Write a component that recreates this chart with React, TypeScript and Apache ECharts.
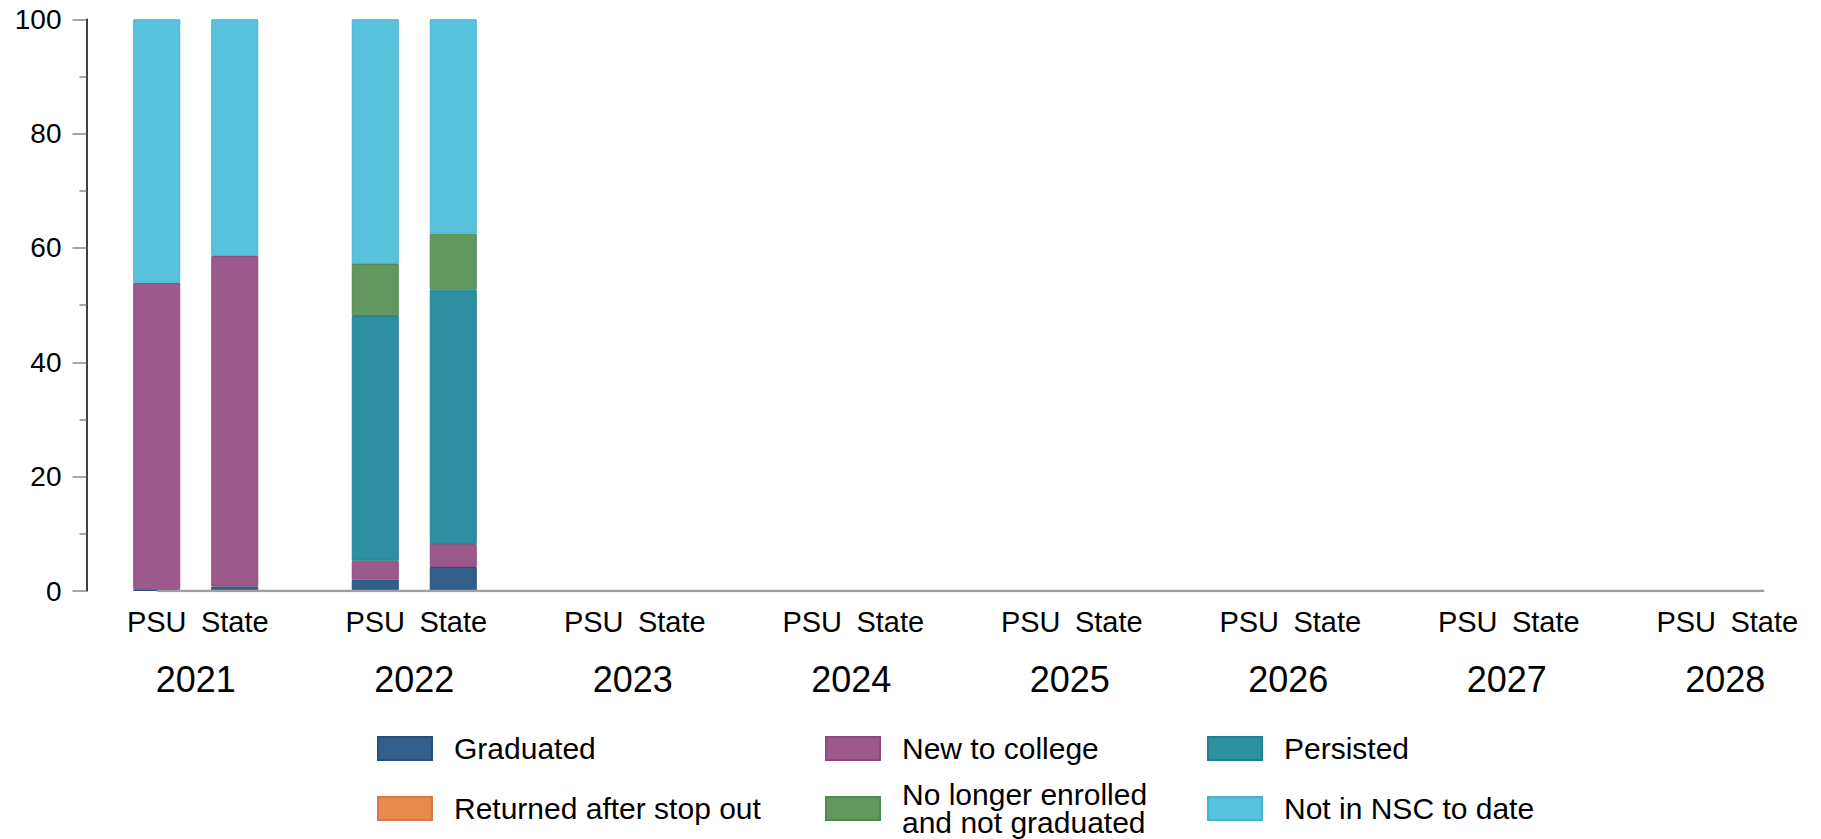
import React, { useEffect, useRef } from "react";
import * as echarts from "echarts";

// ---- data ----
const years = ["2021", "2022", "2023", "2024", "2025", "2026", "2027", "2028"];
const institutions = ["PSU", "State"];

const seriesNames = [
  "Graduated",
  "New to college",
  "Persisted",
  "Returned after stop out",
  "No longer enrolled\nand not graduated",
  "Not in NSC to date",
];

const graduatedPSU = [0.3, 2.0, null, null, null, null, null, null];
const graduatedState = [0.8, 4.2, null, null, null, null, null, null];
const newToCollegePSU = [53.6, 3.3, null, null, null, null, null, null];
const newToCollegeState = [57.8, 4.0, null, null, null, null, null, null];
const persistedPSU = [0, 42.8, null, null, null, null, null, null];
const persistedState = [0, 44.5, null, null, null, null, null, null];
const returnedPSU = [0, 0, null, null, null, null, null, null];
const returnedState = [0, 0, null, null, null, null, null, null];
const noLongerPSU = [0, 9.1, null, null, null, null, null, null];
const noLongerState = [0, 9.8, null, null, null, null, null, null];
const notInNscPSU = [46.1, 42.8, null, null, null, null, null, null];
const notInNscState = [41.4, 37.5, null, null, null, null, null, null];

const yTicks = [0, 20, 40, 60, 80, 100];

const colors = ["#315e8b", "#9b598c", "#2f8fa2", "#e8894f", "#62985f", "#58c1db"];
const borders = ["#24507c", "#8c4a7d", "#21808f", "#d9783f", "#4f8a50", "#45b3d0"];

const seriesValues = [
  [graduatedPSU, graduatedState],
  [newToCollegePSU, newToCollegeState],
  [persistedPSU, persistedState],
  [returnedPSU, returnedState],
  [noLongerPSU, noLongerState],
  [notInNscPSU, notInNscState],
];

const FONT = "'Liberation Sans', Arial, sans-serif";
const BAR_W = 47;
const BAR_GAP = 31;
const CAT_W = 218.5;
// offset of each bar centre from its category centre, in category units
const OFF = (BAR_W + BAR_GAP) / 2 / CAT_W;

export default function App() {
  const ref = useRef<HTMLDivElement>(null);

  useEffect(() => {
    document.body.style.margin = "0";
    const chart = echarts.init(ref.current!, null, { renderer: "svg" });

    const barSeries: any[] = [];
    seriesValues.forEach((pair, s) => {
      pair.forEach((arr, g) => {
        barSeries.push({
          name: seriesNames[s],
          type: "bar",
          stack: institutions[g],
          barWidth: BAR_W,
          barGap: `${(BAR_GAP / BAR_W) * 100}%`,
          data: arr.map((v) => (v == null || v === 0 ? null : v)),
          itemStyle: { color: colors[s], borderColor: borders[s], borderWidth: 1 },
          emphasis: { disabled: true },
        });
      });
    });

    const legendCommon = {
      orient: "vertical",
      top: 733.5,
      height: 200,
      padding: 0,
      icon: "rect",
      itemWidth: 54,
      itemHeight: 23,
      textStyle: {
        fontFamily: FONT,
        fontSize: 30,
        lineHeight: 28,
        color: "#000",
        padding: [0, 0, 0, 17],
      },
    };

    chart.setOption({
      animation: false,
      grid: {
        left: 86.5,
        top: 19.3,
        width: CAT_W * years.length,
        height: 571.7,
        outerBoundsMode: "none",
      },
      legend: [
        { ...legendCommon, left: 377, itemGap: 30, data: [seriesNames[0], seriesNames[3]] },
        { ...legendCommon, left: 825, itemGap: 16, data: [seriesNames[1], seriesNames[4]] },
        { ...legendCommon, left: 1207, itemGap: 30, data: [seriesNames[2], seriesNames[5]] },
      ],
      xAxis: [
        {
          type: "category",
          data: years,
          axisLine: { show: false, onZero: false },
          axisTick: { show: false },
          splitLine: { show: false },
          axisLabel: {
            interval: 0,
            formatter: () => `{a|${institutions[0]}}{b|${institutions[1]}}`,
            color: "#000",
            margin: 31,
            verticalAlign: "middle",
            rich: {
              a: { width: 78, align: "center", fontFamily: FONT, fontSize: 29, lineHeight: 29, color: "#000" },
              b: { width: 78, align: "center", fontFamily: FONT, fontSize: 29, lineHeight: 29, color: "#000" },
            },
          },
        },
        {
          type: "category",
          data: years,
          position: "bottom",
          axisLine: { show: false, onZero: false },
          axisTick: { show: false },
          splitLine: { show: false },
          axisLabel: {
            interval: 0,
            fontFamily: FONT,
            fontSize: 36,
            color: "#000",
            margin: 88.5,
            verticalAlign: "middle",
            lineHeight: 36,
          },
        },
        {
          type: "value",
          min: -0.5,
          max: years.length - 0.5,
          show: false,
        },
      ],
      yAxis: {
        type: "value",
        min: yTicks[0],
        max: yTicks[yTicks.length - 1],
        interval: 20,
        axisLine: { show: true, onZero: false, lineStyle: { color: "#000", width: 1.5 } },
        axisTick: { show: true, length: 14, lineStyle: { color: "#888", width: 1.5 } },
        minorTick: { show: true, splitNumber: 2, length: 7, lineStyle: { color: "#888", width: 1.5 } },
        splitLine: { show: false },
        axisLabel: {
          fontFamily: FONT,
          fontSize: 28,
          color: "#000",
          margin: 25,
        },
      },
      series: [
        ...barSeries,
        {
          type: "line",
          xAxisIndex: 2,
          data: [
            [-OFF, 0],
            [years.length - 1 + OFF, 0],
          ],
          symbol: "none",
          silent: true,
          z: 3,
          lineStyle: { color: "#a0a0a0", width: 2.5 },
        },
      ],
    });

    return () => chart.dispose();
  }, []);

  return <div ref={ref} style={{ width: 1821, height: 839 }} />;
}
